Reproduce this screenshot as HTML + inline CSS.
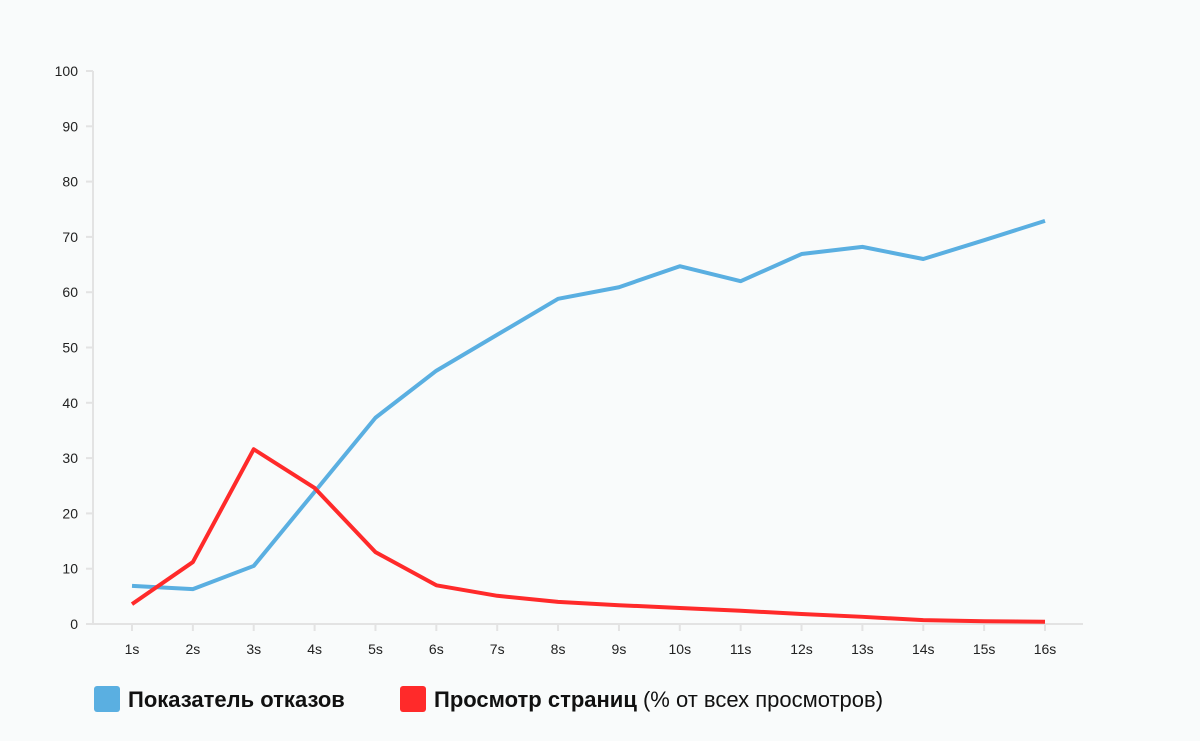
<!DOCTYPE html>
<html><head><meta charset="utf-8"><style>
body{margin:0;background:#f9fbfb;font-family:"Liberation Sans",sans-serif}
svg{display:block}
</style></head><body>
<svg width="1200" height="741">
<rect width="1200" height="741" fill="#f9fbfb"/>
<g id="axes"></g>
<g id="series"></g>
<g>
<rect x="94" y="686" width="26" height="26" rx="3" fill="#5aafe1"/>
<text x="128" y="707" font-size="22" font-weight="bold" fill="#111">Показатель отказов</text>
<rect x="400" y="686" width="26" height="26" rx="3" fill="#ff2a2a"/>
<text x="434" y="707" font-size="22" fill="#111"><tspan font-weight="bold">Просмотр страниц</tspan> (% от всех просмотров)</text>
</g>
</svg>
<script>
const categories=["1s","2s","3s","4s","5s","6s","7s","8s","9s","10s","11s","12s","13s","14s","15s","16s"];
const bounceRate=[6.9,6.3,10.5,23.9,37.3,45.8,52.3,58.8,60.9,64.7,62,66.9,68.2,66,69.4,72.9];
const pageViews=[3.6,11.2,31.6,24.6,13,7,5.1,4,3.4,2.9,2.4,1.8,1.3,0.7,0.5,0.4];
const yTicks=[0,10,20,30,40,50,60,70,80,90,100];
const NS="http://www.w3.org/2000/svg";
const x=i=>132+i*(1045-132)/15;
const y=v=>624-v*(624-71)/100;
function mk(tag,attrs,parent){const e=document.createElementNS(NS,tag);for(const k in attrs)e.setAttribute(k,attrs[k]);parent.appendChild(e);return e;}
const ax=document.getElementById('axes');
let l=mk('line',{x1:93,y1:71,x2:93,y2:624,stroke:'#e3e3e3','stroke-width':2},ax);


l=mk('line',{x1:93,y1:624,x2:1083,y2:624,stroke:'#e3e3e3','stroke-width':2},ax);


yTicks.forEach(v=>{
 const t=mk('line',{x1:86,y1:y(v),x2:93,y2:y(v),stroke:'#e3e3e3','stroke-width':2},ax);
 
 
 const tx=mk('text',{x:78,y:y(v)+5,'text-anchor':'end','font-size':14,fill:'#222'},ax);
 tx.textContent=v;
 
 
});
categories.forEach((c,i)=>{
 const t=mk('line',{x1:x(i),y1:624,x2:x(i),y2:631,stroke:'#e3e3e3','stroke-width':2},ax);
 
 
 const tx=mk('text',{x:x(i),y:654,'text-anchor':'middle','font-size':14,fill:'#222'},ax);
 tx.textContent=c;
 
 
});
const sg=document.getElementById('series');
function line(vals,color,name){
 const p=mk('polyline',{points:vals.map((v,i)=>x(i)+','+y(v)).join(' '),fill:'none',stroke:color,'stroke-width':4,'stroke-linejoin':'round'},sg);
 
 
}
line(bounceRate,'#5aafe1','bounce-rate-line');
line(pageViews,'#ff2a2a','page-views-line');
</script>
</body></html>
